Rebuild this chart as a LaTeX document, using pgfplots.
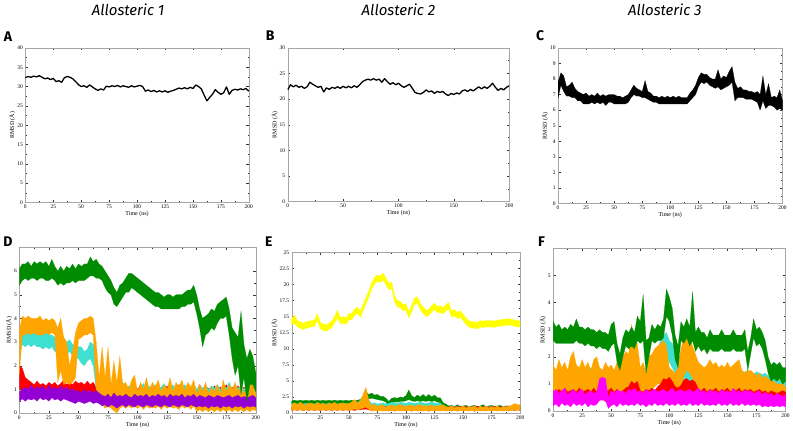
\documentclass[border=0pt]{standalone}
\usepackage{fontspec}
\setmainfont{Liberation Serif}
\newfontfamily\titlefont{Fira Sans}
\usepackage{pgfplots}
\usepackage{pgfplotstable}
\pgfplotsset{compat=1.18}
\usepgfplotslibrary{fillbetween}

\definecolor{xgreen}{RGB}{0,140,0}
\definecolor{xorange}{RGB}{255,165,0}
\definecolor{xturq}{RGB}{64,224,208}
\definecolor{xred}{RGB}{255,0,0}
\definecolor{xviolet}{RGB}{148,0,211}
\definecolor{xmagenta}{RGB}{255,0,255}
\definecolor{xyellow}{RGB}{255,255,0}

\pgfplotsset{
  panel/.style={
    scale only axis, anchor=south west,
    xmin=0, xmax=200, ymin=0,
    axis line style={gray!70},
    tick style={black!80, thin},
    major tick length=2.5pt, minor tick length=1.3pt,
    ticklabel style={font=\fontsize{5.5}{6}\selectfont},
    label style={font=\fontsize{6}{7}\selectfont},
    xlabel={Time (ns)}, ylabel={RMSD (Å)},
    xlabel style={yshift=4pt}, ylabel style={yshift=-5pt},
    xticklabel style={yshift=1pt}, yticklabel style={xshift=1pt},
    /pgf/number format/assume math mode=true,
    every axis plot/.append style={line join=round},
  },
}

% one noisy trace = band between its lower and upper envelope
% #1 table, #2 low column, #3 high column, #4 colour
\newcommand{\band}[4]{%
  \addplot[draw=none, name path=lo#2] table[x=t, y=#2] {#1};
  \addplot[draw=none, name path=hi#2] table[x=t, y=#3] {#1};
  \addplot[fill=#4, draw=#4, line width=0.2pt] fill between[of=lo#2 and hi#2];
}

% panel A, Allosteric 1
\pgfplotstableread{
t y
0 32.3
2.5 32.6
5 32.4
7.5 32.7
10 32.5
12.5 32.8
15 32.4
17.5 32.0
20 32.2
22.5 31.8
25 32.1
27.5 31.3
30 31.5
32.5 31.1
35 32.3
37.5 32.6
40 32.4
42.5 32.0
45 31.3
47.5 30.5
50 30.0
52.5 30.2
55 29.8
57.5 30.4
60 29.9
62.5 29.4
65 29.0
67.5 29.4
70 29.1
72.5 30.1
75 29.9
77.5 30.2
80 30.0
82.5 30.3
85 29.9
87.5 30.2
90 30.0
92.5 29.8
95 30.2
97.5 29.9
100 30.1
102.5 30.3
105 30.0
107.5 28.8
110 29.1
112.5 28.7
115 29.0
117.5 28.6
120 28.9
122.5 28.6
125 28.9
127.5 28.5
130 28.8
132.5 29.0
135 29.3
137.5 29.6
140 29.4
142.5 29.7
145 29.4
147.5 29.8
150 29.5
152.5 30.4
155 30.0
157.5 29.4
160 27.8
162.5 26.3
165 27.2
167.5 28.0
170 29.2
172.5 28.5
175 28.0
177.5 28.4
180 29.9
182.5 28.0
185 29.0
187.5 29.3
190 29.1
192.5 29.4
195 29.2
197.5 29.5
200 28.8
}\tabA

% panel B, Allosteric 2
\pgfplotstableread{
t y
0 21.8
2.5 22.8
5 22.4
7.5 22.7
10 22.3
12.5 22.5
15 22.1
17.5 22.4
20 23.3
22.5 22.9
25 22.6
27.5 22.3
30 22.5
32.5 21.4
35 22.2
37.5 21.9
40 22.3
42.5 22.1
45 22.4
47.5 22.1
50 22.5
52.5 22.2
55 22.5
57.5 22.2
60 22.6
62.5 22.3
65 22.8
67.5 23.4
70 23.7
72.5 23.9
75 23.7
77.5 24.0
80 23.7
82.5 23.9
85 23.3
87.5 24.0
90 23.4
92.5 22.9
95 23.2
97.5 22.8
100 23.1
102.5 22.6
105 22.3
107.5 22.6
110 22.9
112.5 22.1
115 21.3
117.5 21.1
120 21.0
122.5 21.3
125 21.8
127.5 21.4
130 21.6
132.5 21.1
135 21.5
137.5 21.3
140 21.5
142.5 21.0
145 20.7
147.5 21.1
150 20.9
152.5 21.2
155 21.0
157.5 21.6
160 21.8
162.5 21.5
165 21.9
167.5 21.6
170 22.0
172.5 22.4
175 22.0
177.5 22.4
180 22.1
182.5 22.5
185 23.1
187.5 22.3
190 21.7
192.5 22.1
195 21.8
197.5 22.3
200 22.6
}\tabB

% panel C, Allosteric 3 (low / high envelope)
\pgfplotstableread{
t l h
0 6.8 7.8
2.5 7.6 8.4
5 7.2 8.2
7.5 6.9 7.5
10 6.9 7.6
12.5 6.8 7.8
15 6.8 7.4
17.5 6.6 7.2
20 6.6 7.1
22.5 6.4 7.0
25 6.4 7.1
27.5 6.4 6.9
30 6.5 7.0
32.5 6.4 6.9
35 6.5 7.1
37.5 6.4 6.9
40 6.5 7.0
42.5 6.3 6.9
45 6.5 7.0
47.5 6.5 7.0
50 6.4 7.0
52.5 6.4 6.9
55 6.4 6.9
57.5 6.4 6.8
60 6.4 6.9
62.5 6.5 7.0
65 6.8 7.3
67.5 7.0 7.6
70 6.9 7.4
72.5 6.9 7.3
75 6.8 7.2
77.5 6.8 7.9
80 6.7 7.2
82.5 6.6 7.1
85 6.5 6.9
87.5 6.5 6.9
90 6.4 6.8
92.5 6.4 6.9
95 6.4 6.8
97.5 6.4 6.9
100 6.4 6.8
102.5 6.4 6.9
105 6.4 6.8
107.5 6.4 6.9
110 6.4 6.8
112.5 6.4 6.8
115 6.4 6.8
117.5 6.6 7.1
120 6.8 7.3
122.5 7.0 7.6
125 7.5 8.1
127.5 7.8 8.4
130 7.7 8.3
132.5 7.8 8.3
135 7.6 8.1
137.5 7.5 8.0
140 7.4 8.0
142.5 7.5 8.6
145 7.3 8.0
147.5 7.4 8.2
150 7.5 8.1
152.5 7.6 8.5
155 7.8 8.8
157.5 6.6 7.8
160 6.8 7.4
162.5 6.8 7.5
165 6.8 7.3
167.5 6.7 7.3
170 6.7 7.2
172.5 6.7 7.2
175 6.6 7.1
177.5 6.5 7.2
180 6.0 7.0
182.5 6.6 8.2
185 6.1 7.0
187.5 6.3 7.7
190 6.3 6.8
192.5 6.2 6.9
195 6.0 6.8
197.5 6.1 7.3
200 6.0 6.6
}\tabC

% panel D: green, orange, turquoise, red, violet (low / high)
\pgfplotstableread{
t gl gh ol oh cl ch rl rh pl ph
0 5.4 6.1 1.6 3.5 2.4 3.3 1.0 2.0 0.5 0.9
2.5 5.6 6.3 3.3 4.1 2.9 3.4 1.0 1.9 0.6 1.0
5 5.7 6.3 3.3 4.0 2.8 3.4 0.8 1.5 0.5 1.1
7.5 5.6 6.4 3.4 4.1 2.9 3.5 0.8 1.4 0.6 1.0
10 5.7 6.2 3.3 4.0 2.8 3.3 0.7 1.3 0.55 1.2
12.5 5.7 6.4 3.4 4.0 2.9 3.4 0.75 1.2 0.6 1.0
15 5.6 6.3 3.3 4.0 2.8 3.3 0.7 1.35 0.5 1.1
17.5 5.7 6.4 3.3 4.1 2.8 3.4 0.75 1.2 0.65 1.05
20 5.7 6.3 3.3 3.9 2.7 3.3 0.7 1.25 0.55 1.15
22.5 5.6 6.4 3.4 4.0 2.8 3.4 0.8 1.15 0.6 0.95
25 5.6 6.2 3.3 3.9 2.7 3.3 0.7 1.3 0.5 1.2
27.5 5.7 6.5 3.4 4.0 2.8 3.3 0.75 1.2 0.65 1.0
30 5.6 6.2 3.3 3.9 2.6 3.2 0.7 1.3 0.55 1.1
32.5 5.4 6.0 1.3 3.6 2.6 3.1 0.8 1.15 0.6 1.0
35 5.5 6.2 1.8 4.0 2.5 3.0 0.7 1.25 0.5 1.15
37.5 5.4 6.0 1.2 3.2 2.6 3.2 0.75 1.4 0.6 1.0
40 5.5 6.2 1.3 3.0 2.5 3.0 0.7 1.2 0.55 1.1
42.5 5.5 6.1 1.2 2.0 2.6 3.1 0.75 1.3 0.5 0.95
45 5.6 6.3 1.3 2.6 2.4 2.9 0.7 1.2 0.45 1.05
47.5 5.5 6.1 1.5 3.4 2.3 2.9 0.75 1.35 0.4 0.9
50 5.6 6.3 3.1 3.8 2.3 2.8 0.7 1.25 0.5 0.95
52.5 5.6 6.2 3.2 3.9 2.1 2.8 0.75 1.3 0.45 0.85
55 5.6 6.3 3.3 4.0 2.0 2.6 0.7 1.2 0.4 1.0
57.5 5.7 6.3 3.3 4.0 2.2 2.7 0.75 1.35 0.45 0.9
60 5.8 6.6 3.4 4.1 2.3 3.0 0.7 1.2 0.5 0.95
62.5 5.8 6.4 3.3 4.0 2.0 2.9 0.7 1.3 0.4 0.85
65 5.7 6.5 1.0 3.0 1.0 2.3 0.5 1.1 0.45 0.95
67.5 5.7 6.3 0.5 1.5 0.6 1.4 0.55 1.0 0.4 0.85
70 5.6 6.2 0.4 2.8 0.6 1.3 0.5 1.1 0.3 0.75
72.5 5.3 6.0 0.2 1.5 0.6 1.2 0.55 0.95 0.35 0.7
75 5.1 5.8 0.3 2.8 0.5 1.1 0.5 1.15 0.25 0.8
77.5 5.0 5.6 0.2 1.2 0.6 1.0 0.55 1.0 0.35 0.65
80 4.6 5.3 0.1 2.2 0.5 1.2 0.5 1.05 0.3 0.85
82.5 4.5 5.1 0.0 1.3 0.6 0.9 0.55 0.95 0.2 0.7
85 4.7 5.4 0.2 2.4 0.5 1.1 0.5 1.2 0.3 0.75
87.5 4.9 5.5 0.3 1.2 0.6 1.3 0.55 1.0 0.35 0.7
90 5.1 5.7 0.2 1.3 0.5 1.0 0.5 1.1 0.25 0.8
92.5 5.1 5.9 0.3 1.0 0.6 1.15 0.55 0.95 0.35 0.7
95 5.3 5.9 0.2 1.4 0.5 1.0 0.5 1.05 0.3 0.65
97.5 5.2 5.8 0.3 1.6 0.6 1.2 0.55 1.15 0.25 0.8
100 5.1 5.7 0.2 0.9 0.5 0.95 0.5 1.0 0.35 0.7
102.5 5.0 5.6 0.3 1.3 0.6 1.1 0.55 1.2 0.3 0.75
105 4.9 5.5 0.15 1.0 0.5 1.25 0.5 0.95 0.25 0.7
107.5 4.8 5.4 0.3 1.5 0.6 1.0 0.55 1.1 0.35 0.8
110 4.7 5.3 0.2 0.95 0.5 1.15 0.5 1.0 0.3 0.65
112.5 4.6 5.2 0.25 1.3 0.6 1.0 0.55 1.2 0.25 0.75
115 4.5 5.1 0.2 1.1 0.5 1.2 0.5 1.05 0.35 0.7
117.5 4.5 5.1 0.3 1.4 0.6 1.05 0.55 0.95 0.3 0.8
120 4.4 5.0 0.15 0.9 0.5 1.1 0.5 1.1 0.25 0.7
122.5 4.4 4.9 0.3 1.2 0.6 1.25 0.55 1.0 0.35 0.75
125 4.4 5.0 0.2 1.0 0.5 1.0 0.5 1.15 0.3 0.65
127.5 4.4 5.0 0.3 1.5 0.6 1.1 0.55 1.0 0.25 0.8
130 4.4 4.9 0.2 0.9 0.5 1.2 0.5 1.1 0.35 0.7
132.5 4.4 5.0 0.25 1.3 0.6 1.0 0.55 0.95 0.3 0.75
135 4.4 5.0 0.15 1.1 0.5 1.15 0.5 1.2 0.25 0.7
137.5 4.5 5.0 0.3 1.4 0.6 1.05 0.55 1.05 0.35 0.8
140 4.5 5.1 0.2 0.95 0.5 1.2 0.5 1.0 0.3 0.65
142.5 4.6 5.2 0.3 1.3 0.6 1.0 0.55 1.15 0.25 0.75
145 4.6 5.2 0.15 1.1 0.5 1.1 0.5 1.0 0.35 0.7
147.5 4.7 5.4 0.3 1.4 0.6 1.25 0.55 1.1 0.3 0.8
150 4.2 5.0 0.05 0.8 0.5 1.0 0.5 0.95 0.25 0.65
152.5 3.6 4.4 0.15 1.2 0.6 1.15 0.55 1.2 0.3 0.75
155 2.8 4.0 0.05 0.9 0.5 1.05 0.5 1.0 0.25 0.7
157.5 3.3 4.1 0.15 1.3 0.6 1.2 0.55 1.1 0.3 0.65
160 3.4 4.2 0.05 0.8 0.5 1.0 0.5 1.05 0.2 0.75
162.5 3.6 4.4 0.15 1.1 0.6 1.15 0.55 0.95 0.3 0.7
165 3.5 4.3 0.05 0.9 0.5 1.05 0.5 1.15 0.25 0.65
167.5 3.8 4.6 0.15 1.2 0.6 1.2 0.55 1.0 0.3 0.75
170 4.0 4.7 0.05 0.8 0.5 1.0 0.5 1.1 0.2 0.7
172.5 4.0 4.8 0.15 1.4 0.6 1.15 0.55 1.0 0.3 0.65
175 4.1 4.9 0.05 0.9 0.5 1.05 0.5 1.2 0.25 0.7
177.5 3.3 4.4 0.15 1.2 0.6 1.3 0.55 1.0 0.3 0.75
180 2.3 3.6 0.05 1.0 0.5 1.0 0.5 1.1 0.2 0.65
182.5 1.6 3.4 0.15 1.3 0.6 1.2 0.55 0.95 0.3 0.7
185 2.0 3.2 0.05 0.9 0.5 1.05 0.5 1.15 0.25 0.75
187.5 0.8 4.3 0.15 1.2 0.6 1.15 0.55 1.0 0.3 0.65
190 1.5 2.9 0.05 0.8 0.5 1.0 0.5 1.1 0.2 0.7
192.5 0.5 2.3 0.15 1.1 0.6 1.2 0.55 0.95 0.3 0.65
195 1.2 2.7 0.05 1.3 0.5 1.05 0.5 1.05 0.25 0.7
197.5 1.2 2.4 0.15 1.2 0.6 1.1 0.55 1.0 0.3 0.75
200 0.9 1.7 0.1 0.8 0.5 1.0 0.5 1.1 0.25 0.65
}\tabD

% panel E: yellow, green, turquoise, red, orange (low / high)
\pgfplotstableread{
t yl yh gl gh cl ch rl rh ol oh
0 13.7 14.7 1.4 1.9 0.9 1.4 0.4 0.9 0.4 1.4
2.5 14.0 15.2 1.5 2.0 1.0 1.5 0.5 1.0 0.5 1.6
5 13.4 14.4 1.4 1.9 0.9 1.4 0.4 0.9 0.4 1.3
7.5 13.2 14.2 1.5 2.0 1.0 1.5 0.5 1.0 0.5 1.7
10 13.0 14.0 1.4 1.9 0.9 1.4 0.4 0.9 0.4 1.4
12.5 13.2 14.2 1.5 2.0 1.0 1.5 0.5 1.0 0.5 1.2
15 13.3 14.3 1.4 1.9 0.9 1.4 0.4 0.9 0.4 1.6
17.5 13.4 14.4 1.5 2.0 1.0 1.5 0.5 1.0 0.5 1.5
20 13.5 14.5 1.4 1.9 0.9 1.4 0.4 0.9 0.4 1.3
22.5 14.4 15.5 1.5 2.0 1.0 1.5 0.5 1.0 0.5 1.7
25 13.1 14.1 1.4 1.9 0.9 1.4 0.4 0.9 0.4 1.4
27.5 12.9 13.9 1.5 2.0 1.0 1.5 0.5 1.0 0.5 1.5
30 12.7 13.7 1.4 1.9 0.9 1.4 0.4 0.9 0.4 1.2
32.5 13.0 14.0 1.5 2.0 1.0 1.5 0.5 1.0 0.5 1.6
35 13.3 14.3 1.4 1.9 0.9 1.4 0.4 0.9 0.4 1.4
37.5 14.0 15.0 1.5 2.0 1.0 1.5 0.5 1.0 0.5 1.7
40 14.8 16.0 1.4 1.9 0.9 1.4 0.4 0.9 0.4 1.3
42.5 13.9 14.9 1.5 2.0 1.0 1.5 0.5 1.0 0.5 1.5
45 14.0 15.0 1.4 1.9 0.9 1.4 0.4 0.9 0.4 1.6
47.5 13.8 14.8 1.5 2.0 1.0 1.5 0.5 1.0 0.5 1.4
50 14.5 15.5 1.4 1.9 0.9 1.4 0.4 0.9 0.4 1.5
52.5 14.5 15.5 1.5 2.0 1.0 1.5 0.5 1.0 0.5 1.7
55 15.2 16.2 1.4 1.9 0.9 1.5 0.4 0.9 0.6 2.1
57.5 15.5 16.5 1.5 2.0 1.0 1.6 0.5 1.0 0.5 1.6
60 14.9 15.9 1.5 2.1 1.3 2.0 0.5 1.1 0.6 1.8
62.5 15.9 16.9 1.8 2.6 1.6 2.6 0.6 1.2 0.8 2.9
65 17.0 18.0 2.2 3.3 1.5 2.3 0.6 1.2 0.9 4.0
67.5 18.0 19.0 2.2 2.9 1.3 2.0 0.5 1.1 0.6 2.0
70 19.3 20.3 2.3 3.1 0.9 1.5 0.4 0.9 0.3 1.1
72.5 20.1 21.1 2.2 2.8 0.9 1.6 0.5 1.0 0.4 1.4
75 20.5 21.5 2.1 2.9 0.9 1.4 0.4 0.9 0.25 1.0
77.5 20.3 21.3 2.0 2.6 0.9 1.5 0.5 1.1 0.4 1.3
80 20.7 21.8 1.9 2.6 0.9 1.6 0.4 0.9 0.3 1.2
82.5 20.0 21.0 1.7 2.3 0.9 1.4 0.5 1.0 0.35 0.9
85 19.2 20.2 1.0 1.8 0.9 1.5 0.4 0.9 0.3 1.1
87.5 19.4 20.4 1.6 2.3 1.0 1.7 0.5 1.0 0.4 1.3
90 17.3 18.3 1.7 2.4 1.0 1.6 0.4 0.9 0.25 1.0
92.5 16.5 17.5 1.7 2.3 1.0 1.5 0.5 1.1 0.4 1.2
95 16.4 17.4 1.8 2.5 1.0 1.7 0.4 0.9 0.3 1.4
97.5 15.9 16.9 1.8 2.4 1.0 1.6 0.5 1.0 0.35 1.0
100 16.0 17.0 1.9 2.7 1.0 1.5 0.4 0.9 0.3 1.2
102.5 14.8 15.8 2.1 3.6 1.0 1.7 0.5 1.1 0.4 1.1
105 15.7 16.7 1.9 2.7 1.0 1.6 0.4 0.9 0.25 1.3
107.5 16.9 17.9 1.8 2.4 1.0 1.5 0.5 1.0 0.4 1.0
110 17.1 18.1 1.9 2.8 1.0 1.6 0.4 0.9 0.3 1.2
112.5 16.1 17.1 1.8 2.5 1.0 1.7 0.5 1.1 0.35 1.4
115 15.5 16.5 1.9 2.9 1.0 1.6 0.4 0.9 0.3 1.0
117.5 15.0 16.0 1.8 2.5 1.0 1.5 0.5 1.0 0.4 1.2
120 15.2 16.2 1.9 2.9 1.0 1.6 0.4 0.9 0.25 1.1
122.5 15.7 16.7 1.8 2.5 1.0 1.7 0.5 1.1 0.4 1.3
125 16.1 17.1 1.9 2.8 1.0 1.6 0.4 0.9 0.3 1.0
127.5 15.6 16.6 1.7 2.4 1.0 1.5 0.5 1.0 0.35 1.2
130 15.7 16.7 1.6 2.4 1.0 1.6 0.4 0.9 0.3 1.1
132.5 15.4 16.4 1.0 1.6 0.5 1.1 0.5 1.0 0.4 1.3
135 15.9 16.9 0.7 1.4 0.5 1.0 0.4 0.9 0.3 1.0
137.5 16.2 17.2 0.5 1.1 0.5 0.9 0.5 1.0 0.35 0.9
140 14.9 15.9 0.6 1.2 0.5 1.0 0.4 0.9 0.3 1.1
142.5 15.1 16.1 0.5 1.0 0.5 1.1 0.5 1.0 0.4 0.8
145 14.7 15.7 0.6 1.3 0.5 0.9 0.4 0.9 0.25 1.0
147.5 14.9 15.9 0.5 1.0 0.5 1.0 0.5 1.1 0.4 0.9
150 14.4 15.4 0.6 1.1 0.5 1.1 0.4 0.9 0.3 1.1
152.5 13.8 14.8 0.5 1.2 0.5 0.9 0.5 1.0 0.35 0.8
155 13.4 14.4 0.6 1.0 0.5 1.0 0.4 0.9 0.3 1.0
157.5 13.2 14.2 0.5 1.1 0.5 1.1 0.5 1.0 0.4 0.9
160 13.2 14.2 0.6 1.2 0.5 0.9 0.4 0.9 0.25 1.1
162.5 13.1 14.1 0.5 1.0 0.5 1.0 0.5 1.1 0.4 0.8
165 13.4 14.4 0.6 1.1 0.5 1.1 0.4 0.9 0.3 1.0
167.5 13.3 14.3 0.5 1.3 0.5 0.9 0.5 1.0 0.35 0.9
170 13.4 14.4 0.6 1.0 0.5 1.0 0.4 0.9 0.3 1.1
172.5 13.4 14.4 0.5 1.1 0.5 1.1 0.5 1.0 0.4 0.8
175 13.4 14.4 0.6 1.2 0.5 0.9 0.4 0.9 0.25 1.0
177.5 13.3 14.3 0.5 1.0 0.5 1.0 0.5 1.1 0.4 0.9
180 13.5 14.5 0.6 1.1 0.5 1.1 0.4 0.9 0.3 1.1
182.5 13.5 14.5 0.5 1.2 0.5 0.9 0.5 1.0 0.35 0.8
185 13.6 14.6 0.6 1.0 0.5 1.0 0.4 0.9 0.3 1.0
187.5 13.6 14.6 0.5 1.1 0.5 1.1 0.5 1.0 0.4 0.9
190 13.7 14.7 0.6 1.1 0.5 1.0 0.4 0.9 0.3 1.1
192.5 13.6 14.6 0.5 1.0 0.5 1.0 0.5 1.0 0.4 1.2
195 13.5 14.5 0.6 1.1 0.5 1.0 0.4 0.9 0.5 1.5
197.5 13.4 14.4 0.5 1.0 0.5 1.0 0.5 1.0 0.4 1.3
200 13.4 14.4 0.6 1.1 0.5 1.0 0.4 0.9 0.5 1.3
}\tabE

% panel F: green, orange, turquoise, red, magenta (low / high)
\pgfplotstableread{
t gl gh ol oh cl ch rl rh ml mh
0 2.6 3.3 0.6 1.7 0.8 1.5 0.4 0.75 0.2 0.7
2.5 2.5 3.1 0.7 1.5 0.9 1.4 0.35 0.7 0.25 0.8
5 2.5 3.2 0.6 1.9 0.8 1.6 0.4 0.8 0.15 0.65
7.5 2.5 3.0 0.7 1.6 0.9 1.35 0.45 0.7 0.3 0.75
10 2.5 3.1 0.6 1.8 0.8 1.55 0.35 0.85 0.2 0.85
12.5 2.5 3.0 0.7 1.5 0.85 1.4 0.4 0.7 0.25 0.6
15 2.5 3.2 0.6 2.0 0.8 1.7 0.4 0.75 0.15 0.7
17.5 2.5 3.1 0.7 2.2 0.9 1.5 0.45 0.8 0.3 0.8
20 2.6 3.4 0.6 1.7 0.8 1.45 0.35 0.7 0.2 0.65
22.5 2.5 3.1 0.7 1.6 0.85 1.6 0.4 0.85 0.25 0.75
25 2.5 3.1 0.6 1.9 0.8 1.4 0.4 0.7 0.2 0.8
27.5 2.4 3.0 0.7 1.6 0.9 1.55 0.35 0.75 0.3 0.6
30 2.5 3.1 0.6 1.8 0.8 1.45 0.45 0.8 0.15 0.7
32.5 2.4 3.0 0.7 1.5 0.85 1.6 0.4 0.7 0.25 0.75
35 2.4 3.0 0.6 1.9 0.8 1.4 0.35 0.85 0.2 0.65
37.5 2.3 2.9 0.7 2.0 0.9 1.5 0.4 0.7 0.25 0.7
40 2.4 3.0 0.6 1.6 0.8 1.55 0.4 0.75 0.4 1.2
42.5 2.3 2.9 0.7 1.5 0.85 1.4 0.45 0.8 0.4 1.25
45 2.3 2.9 0.5 1.8 0.8 1.6 0.35 0.7 0.4 1.2
47.5 2.2 2.8 0.6 1.6 0.9 1.45 0.4 0.75 0.1 0.5
50 2.4 3.2 0.6 1.7 0.8 1.5 0.4 0.85 0.2 0.75
52.5 2.5 3.3 0.7 1.5 0.85 1.4 0.35 0.7 0.25 0.65
55 1.8 2.5 0.6 1.8 0.8 1.6 0.45 0.8 0.15 0.8
57.5 1.5 2.1 0.7 1.7 0.9 1.5 0.4 0.7 0.3 0.7
60 2.0 2.7 0.7 2.0 0.8 1.55 0.4 0.75 0.2 0.75
62.5 2.4 3.0 0.8 2.2 0.85 1.6 0.45 0.85 0.25 0.65
65 2.3 2.9 0.9 2.1 0.9 1.7 0.4 0.9 0.2 0.8
67.5 2.4 3.1 1.0 3.2 1.0 2.2 0.5 1.1 0.25 0.75
70 2.3 2.9 1.0 2.6 1.0 2.2 0.5 1.0 0.2 0.85
72.5 2.6 3.5 0.9 2.5 1.0 2.1 0.5 1.1 0.3 0.7
75 2.5 3.3 0.6 1.6 0.8 1.5 0.4 0.75 0.2 0.75
77.5 2.6 4.3 0.7 1.8 0.85 1.6 0.35 0.7 0.25 0.65
80 1.4 2.6 0.5 1.4 0.8 1.45 0.4 0.8 0.15 0.8
82.5 2.0 2.7 0.7 2.0 0.9 1.6 0.45 0.75 0.25 0.7
85 2.6 3.2 0.8 2.1 0.85 1.7 0.4 0.85 0.2 0.75
87.5 2.5 3.0 0.9 2.3 0.9 1.8 0.4 0.75 0.3 0.8
90 2.6 3.2 1.0 2.4 1.2 2.3 0.45 0.9 0.2 0.7
92.5 2.6 3.1 1.0 2.5 1.5 2.6 0.5 1.0 0.25 0.75
95 2.7 3.4 1.1 2.6 1.8 2.8 0.5 1.2 0.2 0.8
97.5 3.5 4.5 1.0 2.4 2.0 2.9 0.55 1.15 0.3 0.7
100 3.3 4.2 0.7 1.6 1.8 2.6 0.5 1.25 0.2 0.75
102.5 2.8 3.8 0.6 1.5 1.6 2.5 0.5 1.1 0.25 0.85
105 1.9 2.8 0.5 1.4 1.4 2.3 0.4 0.9 0.2 0.7
107.5 1.6 2.4 0.6 1.6 1.2 2.0 0.4 0.85 0.3 0.75
110 2.6 3.3 0.8 2.3 1.0 2.0 0.45 0.95 0.2 0.8
112.5 2.5 3.1 1.3 2.7 1.0 2.0 0.5 1.15 0.25 0.7
115 2.7 3.4 1.5 2.9 1.0 2.0 0.55 1.2 0.2 0.75
117.5 2.4 3.1 1.4 2.7 1.0 2.0 0.5 1.1 0.3 0.8
120 2.6 4.4 1.2 2.4 1.0 2.0 0.5 1.15 0.2 0.7
122.5 2.2 2.9 1.0 2.1 0.8 1.6 0.5 1.05 0.25 0.75
125 2.4 3.1 0.8 1.8 0.75 1.45 0.4 0.8 0.2 0.85
127.5 2.2 2.9 0.8 1.7 0.8 1.5 0.45 0.75 0.3 0.7
130 2.3 2.9 0.7 1.6 0.7 1.4 0.4 0.85 0.2 0.75
132.5 2.1 2.7 0.7 1.7 0.8 1.55 0.35 0.7 0.25 0.65
135 2.3 3.0 0.7 1.9 0.75 1.6 0.4 0.8 0.2 0.8
137.5 2.2 2.8 0.7 1.7 0.8 1.45 0.45 0.75 0.25 0.7
140 2.2 2.8 0.8 1.8 0.7 1.5 0.4 0.85 0.2 0.75
142.5 2.2 2.8 0.7 1.6 0.8 1.4 0.35 0.7 0.3 0.65
145 2.3 3.0 0.7 1.7 0.75 1.55 0.4 0.8 0.2 0.8
147.5 2.2 2.8 0.7 1.6 0.8 1.45 0.45 0.75 0.25 0.7
150 2.2 2.8 0.6 1.8 0.7 1.6 0.4 0.85 0.2 0.75
152.5 2.2 2.8 0.7 1.6 0.8 1.4 0.35 0.7 0.3 0.65
155 2.3 3.0 0.6 1.7 0.75 1.5 0.4 0.8 0.2 0.85
157.5 2.2 2.8 0.7 1.8 0.8 1.55 0.45 0.75 0.25 0.7
160 2.2 2.8 0.6 1.9 0.7 1.6 0.4 0.85 0.2 0.75
162.5 2.2 2.8 0.6 1.5 0.8 1.4 0.35 0.7 0.3 0.65
165 2.3 3.0 0.5 1.4 0.75 1.45 0.4 0.8 0.2 0.8
167.5 1.5 2.2 0.6 1.5 0.8 1.5 0.45 0.75 0.25 0.7
170 2.1 2.7 0.5 1.5 0.7 1.4 0.4 0.8 0.2 0.75
172.5 2.7 3.4 0.6 1.4 0.8 1.35 0.35 0.7 0.25 0.65
175 2.4 3.0 0.5 1.3 0.75 1.45 0.4 0.75 0.2 0.7
177.5 2.5 3.1 0.6 1.4 0.8 1.4 0.4 0.8 0.25 0.75
180 2.3 2.9 0.5 1.2 0.7 1.35 0.35 0.7 0.15 0.6
182.5 1.9 2.6 0.5 1.3 0.8 1.4 0.4 0.75 0.2 0.7
185 1.4 2.0 0.5 1.2 0.7 1.3 0.35 0.65 0.15 0.6
187.5 1.1 1.7 0.5 1.1 0.75 1.35 0.4 0.75 0.2 0.65
190 1.2 1.8 0.4 1.1 0.7 1.3 0.35 0.7 0.15 0.55
192.5 1.1 1.7 0.5 1.0 0.75 1.4 0.4 0.65 0.2 0.65
195 1.2 1.8 0.4 1.0 0.7 1.3 0.35 0.7 0.15 0.6
197.5 1.0 1.6 0.5 1.0 0.75 1.35 0.4 0.75 0.2 0.55
200 1.1 1.6 0.4 0.9 0.7 1.3 0.35 0.7 0.15 0.6
}\tabF

\begin{document}
\begin{tikzpicture}
% page frame, same size as the reference
\path (0pt,0pt) rectangle (793pt,431pt);

% column titles and panel letters
\node[font=\titlefont\itshape\fontsize{15}{16}\selectfont] at (128pt,421pt) {Allosteric 1};
\node[font=\titlefont\itshape\fontsize{15}{16}\selectfont] at (399pt,421pt) {Allosteric 2};
\node[font=\titlefont\itshape\fontsize{15}{16}\selectfont] at (666pt,421pt) {Allosteric 3};
\node[font=\titlefont\bfseries\fontsize{14}{15}\selectfont] at (7.5pt,394.5pt) {A};
\node[font=\titlefont\bfseries\fontsize{14}{15}\selectfont] at (270.5pt,395pt) {B};
\node[font=\titlefont\bfseries\fontsize{14}{15}\selectfont] at (541pt,395pt) {C};
\node[font=\titlefont\bfseries\fontsize{14}{15}\selectfont] at (7.5pt,189pt) {D};
\node[font=\titlefont\bfseries\fontsize{14}{15}\selectfont] at (269pt,189pt) {E};
\node[font=\titlefont\bfseries\fontsize{14}{15}\selectfont] at (542.5pt,189pt) {F};

\begin{axis}[panel, at={(25pt,228pt)}, width=224pt, height=155pt,
  ymax=40, xtick distance=25, ytick distance=5,
  minor x tick num=1, minor y tick num=1]
\addplot[black, line width=1.3pt] table[x=t, y=y] {\tabA};
\end{axis}

\begin{axis}[panel, at={(288pt,229pt)}, width=222pt, height=154pt,
  ymax=30, xtick distance=50, ytick distance=5,
  minor x tick num=1, minor y tick num=1]
\addplot[black, line width=1.3pt] table[x=t, y=y] {\tabB};
\end{axis}

\begin{axis}[panel, at={(559pt,227pt)}, width=225pt, height=156pt,
  ymax=10, xtick distance=25, ytick distance=1,
  minor x tick num=1, minor y tick num=1]
\band{\tabC}{l}{h}{black}
\end{axis}

\begin{axis}[panel, at={(19pt,17pt)}, width=237pt, height=166pt,
  ymax=7, xtick distance=25, ytick={0,1,...,6},
  minor x tick num=1, minor y tick num=1]
\band{\tabD}{rl}{rh}{xred}
\band{\tabD}{cl}{ch}{xturq}
\band{\tabD}{ol}{oh}{xorange}
\band{\tabD}{pl}{ph}{xviolet}
\band{\tabD}{gl}{gh}{xgreen}
\end{axis}

\begin{axis}[panel, at={(292pt,17pt)}, width=229pt, height=161pt,
  ymax=25, xtick distance=25, ytick distance=2.5,
  minor x tick num=1, minor y tick num=1]
\band{\tabE}{yl}{yh}{xyellow}
\band{\tabE}{gl}{gh}{xgreen}
\band{\tabE}{cl}{ch}{xturq}
\band{\tabE}{rl}{rh}{xred}
\band{\tabE}{ol}{oh}{xorange}
\end{axis}

\begin{axis}[panel, at={(554pt,19pt)}, width=233pt, height=163pt,
  ymax=6, xtick distance=25, ytick={0,1,...,5},
  minor x tick num=1, minor y tick num=1]
\band{\tabF}{cl}{ch}{xturq}
\band{\tabF}{ol}{oh}{xorange}
\band{\tabF}{rl}{rh}{xred}
\band{\tabF}{ml}{mh}{xmagenta}
\band{\tabF}{gl}{gh}{xgreen}
\end{axis}
\end{tikzpicture}
\end{document}
